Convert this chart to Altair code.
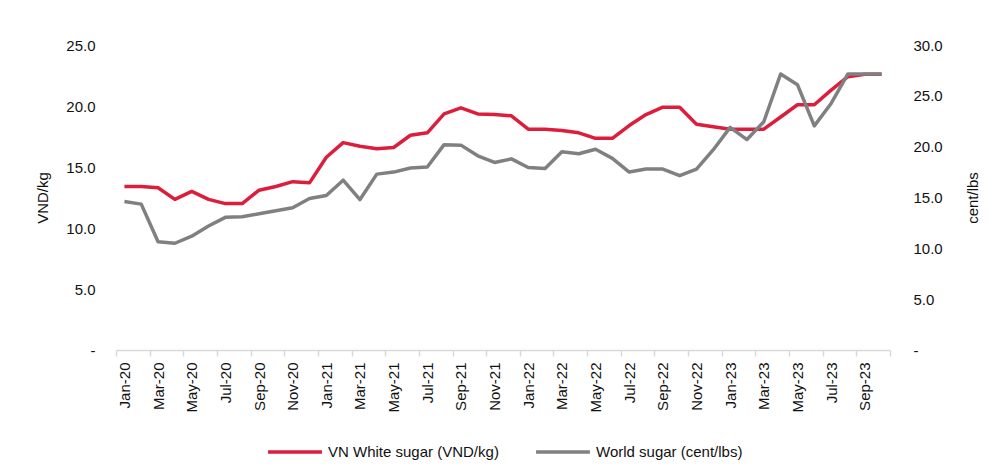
import altair as alt
import pandas as pd

# Monthly categories, Jan-20 .. Oct-23
months = [d.strftime("%b-%y") for d in pd.date_range("2020-01-01", "2023-10-01", freq="MS")]

# VN white sugar price (thousand VND/kg)
vn_white = [13.4, 13.4, 13.3, 12.35, 13.0, 12.35, 12.0, 12.0, 13.1, 13.4, 13.8, 13.7,
            15.8, 17.0, 16.7, 16.5, 16.6, 17.6, 17.8, 19.35, 19.85, 19.35, 19.3, 19.2,
            18.1, 18.1, 18.0, 17.8, 17.35, 17.35, 18.4, 19.3, 19.9, 19.9, 18.5, 18.3,
            18.1, 18.1, 18.1, 19.1, 20.1, 20.1, 21.3, 22.4, 22.6, 22.6]

# World raw sugar price (cent/lbs)
world = [14.6, 14.35, 10.65, 10.5, 11.2, 12.2, 13.05, 13.1, 13.4, 13.7, 14.0, 14.9,
         15.2, 16.7, 14.8, 17.3, 17.5, 17.9, 18.0, 20.2, 20.15, 19.1, 18.45, 18.8,
         17.95, 17.85, 19.5, 19.3, 19.75, 18.85, 17.5, 17.8, 17.8, 17.15, 17.8, 19.7,
         21.9, 20.7, 22.45, 27.15, 26.1, 22.05, 24.25, 27.15, 27.15, 27.15]

series_names = ["VN White sugar (VND/kg)", "World sugar (cent/lbs)"]
series_colors = ["#DC1E3C", "#808080"]

n = len(months)
rows = []
for i, m in enumerate(months):
    rows.append({"idx": i, "month": m, "series": series_names[0], "value": vn_white[i]})
    rows.append({"idx": i, "month": m, "series": series_names[1], "value": world[i]})
df = pd.DataFrame(rows)

FONT = "Liberation Sans, Arial, sans-serif"
FS = 15
W, H = 774, 305
half_step = W / n / 2

tick_vals = [i - 0.5 for i in range(0, n + 1, 2)]
label_arr = "[" + ",".join("'" + m + "'" for m in months) + "]"
x_label_expr = f"{label_arr}[round(datum.value + 0.5)] || ''"

x_enc = alt.X(
    "idx:Q",
    scale=alt.Scale(domain=[-0.5, n - 0.5], nice=False, zero=False),
    axis=alt.Axis(
        values=tick_vals,
        labelExpr=x_label_expr,
        labelAngle=-90,
        labelAlign="right",
        labelBaseline="middle",
        labelOffset=half_step,
        labelPadding=6,
        labelFont=FONT,
        labelFontSize=FS,
        labelColor="#111111",
        labelOverlap=False,
        labelFlush=False,
        grid=False,
        domainColor="#D9D9D9",
        domainWidth=1.5,
        tickColor="#D9D9D9",
        tickWidth=1.5,
        tickSize=6,
        title=None,
    ),
)

color_enc = alt.Color(
    "series:N",
    scale=alt.Scale(domain=series_names, range=series_colors),
    legend=alt.Legend(
        title=None,
        orient="none",
        direction="horizontal",
        legendX=150,
        legendY=378,
        symbolType="stroke",
        symbolSize=2900,
        symbolStrokeWidth=3.5,
        labelFont=FONT,
        labelFontSize=FS,
        labelColor="#111111",
        labelLimit=400,
        labelOffset=4,
        columnPadding=30,
    ),
)

zero_dash = "datum.value == 0 ? '-' : format(datum.value, '.1f')"

vn_line = alt.Chart(df).transform_filter(
    alt.datum.series == series_names[0]
).mark_line(strokeWidth=3.5, strokeJoin="round").encode(
    x=x_enc,
    y=alt.Y(
        "value:Q",
        scale=alt.Scale(domain=[0, 25], nice=False),
        axis=alt.Axis(
            orient="left",
            values=[0, 5, 10, 15, 20, 25],
            labelExpr=zero_dash,
            labelFont=FONT,
            labelFontSize=FS,
            labelColor="#111111",
            labelPadding=21,
            ticks=False,
            domain=False,
            grid=False,
            title="VND/kg",
            titleFont=FONT,
            titleFontSize=FS,
            titleFontWeight="normal",
            titleColor="#111111",
            titleAngle=270,
            titleBaseline="middle",
            titleAlign="center",
            titleX=-74,
            titleY=H / 2,
        ),
    ),
    color=color_enc,
)

world_line = alt.Chart(df).transform_filter(
    alt.datum.series == series_names[1]
).mark_line(strokeWidth=3.5, strokeJoin="round").encode(
    x=x_enc,
    y=alt.Y(
        "value:Q",
        scale=alt.Scale(domain=[0, 30], nice=False),
        axis=alt.Axis(
            orient="right",
            values=[0, 5, 10, 15, 20, 25, 30],
            labelExpr=zero_dash,
            labelFont=FONT,
            labelFontSize=FS,
            labelColor="#111111",
            labelPadding=23,
            ticks=False,
            domain=False,
            grid=False,
            title="cent/lbs",
            titleFont=FONT,
            titleFontSize=FS,
            titleFontWeight="normal",
            titleColor="#111111",
            titleAngle=270,
            titleBaseline="middle",
            titleAlign="center",
            titleX=82,
            titleY=H / 2,
        ),
    ),
    color=color_enc,
)

chart = alt.layer(vn_line, world_line).resolve_scale(
    y="independent"
).properties(
    width=W,
    height=H,
    autosize=alt.AutoSizeParams(type="none"),
    padding={"left": 116, "top": 45, "right": 110, "bottom": 124},
    background="white",
).configure_view(stroke=None)

chart.save("out.html", embed_options={"renderer": "svg", "actions": False})
